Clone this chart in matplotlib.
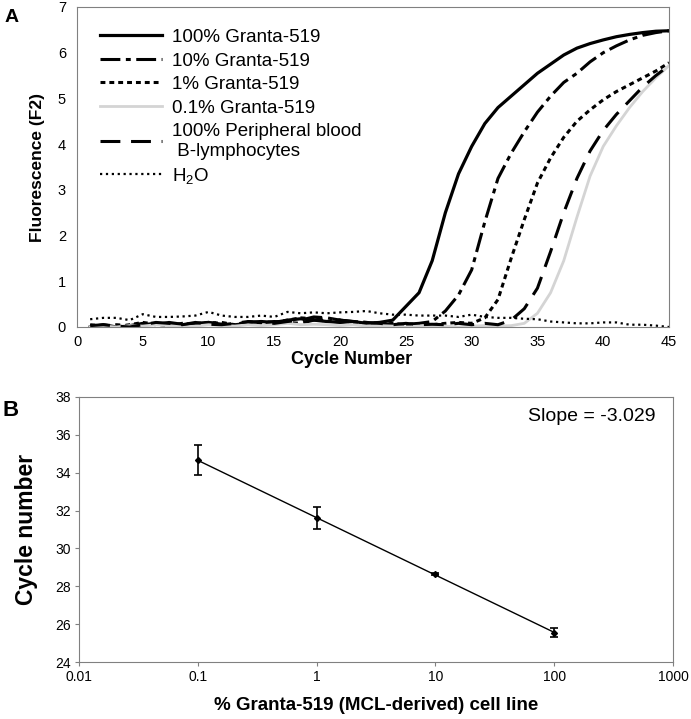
import numpy as np
import matplotlib
matplotlib.use("Agg")
import matplotlib.pyplot as plt
from matplotlib.ticker import FixedLocator, FixedFormatter, NullLocator

plt.rcParams["font.family"] = ["Liberation Sans", "DejaVu Sans"]

# Panel A: real-time PCR amplification curves (fluorescence per cycle)
cycles = list(range(1, 46))
granta_100 = [0.00, 0.05, 0.00, 0.02, 0.05, 0.08, 0.05, 0.03, 0.08, 0.10,
              0.06, 0.02, 0.10, 0.12, 0.10, 0.15, 0.18, 0.15, 0.12, 0.10,
              0.12, 0.08, 0.10, 0.15, 0.45, 0.75, 1.45, 2.50, 3.35, 3.95,
              4.45, 4.80, 5.05, 5.30, 5.55, 5.75, 5.95, 6.10, 6.20, 6.28,
              6.35, 6.40, 6.44, 6.47, 6.48]
granta_10 = [0.02, 0.00, 0.05, 0.03, 0.08, 0.05, 0.10, 0.06, 0.05, 0.08,
             0.10, 0.05, 0.08, 0.10, 0.12, 0.10, 0.08, 0.15, 0.20, 0.15,
             0.12, 0.10, 0.08, 0.05, 0.06, 0.08, 0.12, 0.35, 0.70, 1.25,
             2.30, 3.25, 3.80, 4.27, 4.70, 5.05, 5.35, 5.55, 5.80, 6.00,
             6.15, 6.28, 6.38, 6.44, 6.48]
granta_1 = [0.05, 0.02, 0.00, 0.05, 0.10, 0.06, 0.03, 0.08, 0.05, 0.10,
            0.08, 0.05, 0.12, 0.08, 0.10, 0.15, 0.20, 0.18, 0.12, 0.15,
            0.10, 0.08, 0.05, 0.08, 0.05, 0.06, 0.05, 0.08, 0.10, 0.08,
            0.20, 0.60, 1.50, 2.35, 3.15, 3.70, 4.15, 4.50, 4.75, 4.97,
            5.15, 5.30, 5.45, 5.60, 5.78]
granta_01 = [0.00, 0.02, 0.00, 0.03, 0.02, 0.05, 0.03, 0.00, 0.02, 0.05,
             0.03, 0.02, 0.05, 0.03, 0.05, 0.08, 0.05, 0.06, 0.05, 0.03,
             0.05, 0.02, 0.03, 0.02, 0.00, 0.02, 0.03, 0.02, 0.00, 0.02,
             0.03, 0.02, 0.03, 0.08, 0.30, 0.75, 1.45, 2.40, 3.30, 3.95,
             4.40, 4.80, 5.15, 5.45, 5.72]
peripheral = [0.03, 0.05, 0.02, 0.00, 0.05, 0.10, 0.08, 0.05, 0.10, 0.06,
              0.05, 0.08, 0.12, 0.10, 0.08, 0.12, 0.15, 0.22, 0.20, 0.15,
              0.12, 0.10, 0.08, 0.05, 0.08, 0.05, 0.06, 0.05, 0.08, 0.05,
              0.08, 0.05, 0.15, 0.40, 0.85, 1.65, 2.50, 3.25, 3.85, 4.30,
              4.65, 4.95, 5.25, 5.50, 5.72]
water = [0.17, 0.20, 0.20, 0.15, 0.28, 0.22, 0.22, 0.23, 0.25, 0.33,
         0.25, 0.22, 0.22, 0.25, 0.22, 0.33, 0.30, 0.32, 0.30, 0.32,
         0.33, 0.35, 0.30, 0.27, 0.27, 0.25, 0.25, 0.25, 0.22, 0.27,
         0.22, 0.20, 0.20, 0.18, 0.17, 0.12, 0.10, 0.08, 0.08, 0.10,
         0.10, 0.05, 0.05, 0.03, 0.00]

# Panel B: standard curve
dilution = [0.1, 1, 10, 100]
ct_mean = [34.66, 31.60, 28.63, 25.55]
ct_err = [0.78, 0.57, 0.06, 0.23]
slope_text = "Slope = -3.029"

fig = plt.figure(figsize=(6.91, 7.19), dpi=100)
spine_col = "#808080"

# ---- panel A ----
ax = fig.add_axes([77 / 691, 1 - 327 / 719, 592 / 691, 320 / 719])
series = [
    (granta_100, "100% Granta-519", dict(color="black", lw=2.3, ls="-")),
    (granta_10, "10% Granta-519", dict(color="black", lw=2.2, ls=(0, (6.5, 1.8, 1.6, 1.8)))),
    (granta_1, "1% Granta-519", dict(color="black", lw=2.2, ls=(0, (1.6, 1.3)))),
    (granta_01, "0.1% Granta-519", dict(color="#d4d4d4", lw=2.0, ls="-")),
    (peripheral, "100% Peripheral blood\n B-lymphocytes", dict(color="black", lw=2.2, ls=(0, (6.5, 3.5)))),
    (water, r"$\mathregular{H_2O}$", dict(color="black", lw=1.6, ls=":")),
]
for vals, lab, st in series:
    ax.plot(cycles, vals, label=lab, **st)

ax.set_xlim(0, 45)
ax.set_ylim(0, 7)
ax.set_xticks(range(0, 46, 5))
ax.set_yticks(range(0, 8))
ax.tick_params(axis="x", length=0, labelsize=10.5, pad=6)
ax.tick_params(axis="y", length=0, labelsize=10.5, pad=8)
for s in ax.spines.values():
    s.set_color(spine_col)
ax.set_xlabel("Cycle Number", fontsize=13, fontweight="bold")
ax.xaxis.set_label_coords(0.463, -0.075)
ax.set_ylabel("Fluorescence (F2)", fontsize=12.5, fontweight="bold", labelpad=9)
leg = ax.legend(loc="upper left", bbox_to_anchor=(0.027, 0.955), frameon=False,
                fontsize=13.5, handlelength=3.3, handletextpad=0.53,
                labelspacing=0.34, borderaxespad=0)

# ---- panel B ----
bx = fig.add_axes([79 / 691, 1 - 662 / 719, 594 / 691, 265 / 719])
coef = np.polyfit(np.log10(dilution), ct_mean, 1)
xfit = np.array([dilution[0], dilution[-1]])
bx.plot(xfit, np.polyval(coef, np.log10(xfit)), color="black", lw=1.0)
bx.errorbar(dilution, ct_mean, yerr=ct_err, fmt="D", color="black", ms=3,
            ecolor="black", elinewidth=1.2, capsize=3, capthick=1.2)
bx.set_xscale("log")
bx.set_xlim(0.01, 1000)
bx.set_ylim(24, 38)
xt = [0.01, 0.1, 1, 10, 100, 1000]
bx.xaxis.set_major_locator(FixedLocator(xt))
bx.xaxis.set_major_formatter(FixedFormatter(["0.01", "0.1", "1", "10", "100", "1000"]))
bx.xaxis.set_minor_locator(NullLocator())
bx.set_yticks(range(24, 39, 2))
bx.tick_params(length=3, width=0.8, color=spine_col, labelsize=10, pad=3)
for s in bx.spines.values():
    s.set_color(spine_col)
bx.set_xlabel("% Granta-519 (MCL-derived) cell line", fontsize=13.5,
              fontweight="bold", labelpad=9)
bx.set_ylabel("Cycle number", fontsize=16.5, fontweight="bold", labelpad=12)
bx.text(0.97, 0.925, slope_text, transform=bx.transAxes, ha="right",
        va="center", fontsize=14)

fig.text(5 / 691, 1 - 17 / 719, "A", fontsize=14, fontweight="bold", va="center")
fig.text(3 / 691, 1 - 410 / 719, "B", fontsize=16, fontweight="bold", va="center")

fig.savefig("out.png", dpi=100)
